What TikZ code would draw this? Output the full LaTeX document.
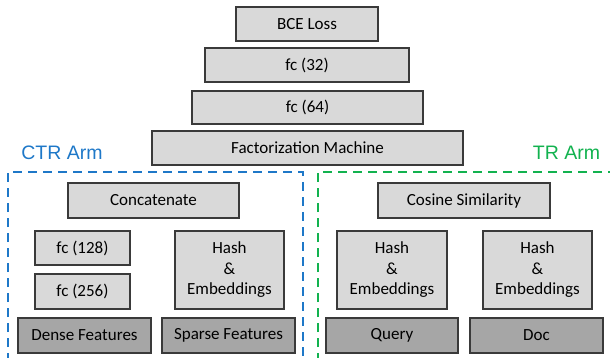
\documentclass[tikz,border=0pt]{standalone}
\usepackage{fontspec}
\setmainfont{Carlito}
\newfontfamily\armfont{Liberation Sans}
\usepackage{tikz}

\definecolor{boxlight}{HTML}{D9D9D9}
\definecolor{boxdark}{HTML}{A6A6A6}
\definecolor{boxline}{HTML}{3A3A3A}
\definecolor{ctrblue}{HTML}{1E78C8}
\definecolor{trgreen}{HTML}{12B24F}

\begin{document}
\begin{tikzpicture}[x=1pt,y=-1pt]
	\tikzstyle{layer}=[rectangle,draw=boxline,line width=1.4pt,fill=boxlight,inner sep=0pt,align=center,font=\fontsize{17}{20.5}\selectfont]
	\tikzstyle{input}=[layer,fill=boxdark]
	\tikzstyle{arm}=[dashed,line width=2.6pt,dash pattern=on 9pt off 6pt]
	\useasboundingbox (0,0) rectangle (610,358);
	% shared top
	\node[layer,minimum width=142pt,minimum height=34pt] (loss) at (307,24) {BCE Loss};
	\node[layer,minimum width=204pt,minimum height=34pt] (fc32) at (307,65) {fc (32)};
	\node[layer,minimum width=231pt,minimum height=33pt] (fc64) at (307.5,107.5) {fc (64)};
	\node[layer,minimum width=311pt,minimum height=34pt] (fm) at (307.5,148) {Factorization Machine};
	% CTR arm
	\draw[arm,ctrblue] (8,362) |- (303,172) -- (303,362);
	\node[font=\armfont\fontsize{19.5}{22}\selectfont,text=ctrblue] (ctr) at (62,153) {CTR Arm};
	\node[layer,minimum width=171pt,minimum height=35pt] (concat) at (153.5,200.5) {Concatenate};
	\node[layer,minimum width=95pt,minimum height=34pt] (fc128) at (82.5,248) {fc (128)};
	\node[layer,minimum width=95pt,minimum height=35pt] (fc256) at (82.5,291.5) {fc (256)};
	\node[layer,minimum width=109pt,minimum height=78pt] (hashs) at (229.5,270) {Hash\\\&\\Embeddings};
	\node[input,minimum width=133pt,minimum height=35pt] (dense) at (84.5,335.5) {Dense Features};
	\node[input,minimum width=133pt,minimum height=35pt] (sparse) at (228.5,335.5) {Sparse Features};
	% TR arm
	\draw[arm,trgreen] (318,362) |- (615,172);
	\node[font=\armfont\fontsize{19.5}{22}\selectfont,text=trgreen] (tr) at (566.5,153) {TR Arm};
	\node[layer,minimum width=172pt,minimum height=35pt] (cos) at (464,200.5) {Cosine Similarity};
	\node[layer,minimum width=110pt,minimum height=78pt] (hashq) at (392,270) {Hash\\\&\\Embeddings};
	\node[layer,minimum width=109pt,minimum height=78pt] (hashd) at (537.5,270) {Hash\\\&\\Embeddings};
	\node[input,minimum width=132pt,minimum height=35pt] (query) at (392,335.5) {Query};
	\node[input,minimum width=133pt,minimum height=35pt] (doc) at (536.5,335.5) {Doc};
\end{tikzpicture}
\end{document}
